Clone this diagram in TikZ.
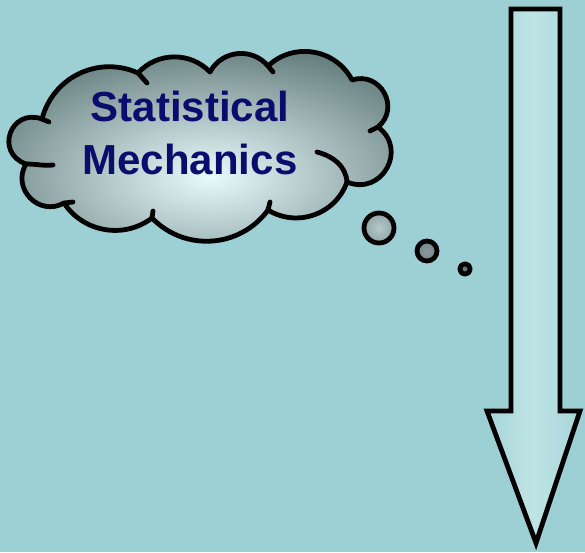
\documentclass[tikz,border=0pt]{standalone}
\usepackage{fontspec}
\setmainfont{Liberation Sans}
\usetikzlibrary{calc}
\definecolor{bgteal}{RGB}{157,208,212}
\definecolor{cloudhi}{RGB}{232,251,252}
\definecolor{cloudlo}{RGB}{100,124,124}
\definecolor{bubhi}{RGB}{182,200,200}
\definecolor{bublo}{RGB}{146,166,166}
\definecolor{arrowhi}{RGB}{192,228,229}
\definecolor{arrowlo}{RGB}{166,213,217}
\definecolor{navytext}{RGB}{12,12,110}
\tikzset{
  outline/.style={draw=black,line width=4.8pt,line join=round,line cap=round},
  bubble/.style={circle,outline,inner sep=0pt,inner color=bubhi,outer color=bublo},
  title/.style={align=center,inner sep=0pt,text=navytext,
    font=\fontsize{42}{53}\selectfont\bfseries},
  puff/.style={bend left=#1},
}

\begin{document}
\begin{tikzpicture}[x=1pt,y=1pt]
  \fill[bgteal] (0,0) rectangle (585,-552);
  \useasboundingbox (0,0) rectangle (585,-552);

  \coordinate (j1) at (42,-119);
  \coordinate (j2) at (138,-73);
  \coordinate (j3) at (210,-72);
  \coordinate (j4) at (268,-66);
  \coordinate (j5) at (352,-80);
  \coordinate (j6) at (378,-127);
  \coordinate (j7) at (347,-182);
  \coordinate (j8) at (268,-210);
  \coordinate (j9) at (152,-218);
  \coordinate (j10) at (64,-203);
  \coordinate (j11) at (26,-164);

  \draw[outline,path picture={
      \shade[inner color=cloudhi,outer color=cloudlo]
        (-50,-50) rectangle (470,-310);}]
    (j1) to[puff=50,looseness=1.04] (j2)
    to[puff=47,looseness=1.01] (j3)
    to[puff=56,looseness=1.09] (j4)
    to[puff=53,looseness=1.06] (j5)
    to[puff=79,looseness=1.42] (j6)
    to[puff=83,looseness=1.52] (j7)
    to[puff=51,looseness=1.05] (j8)
    to[puff=50,looseness=1.04] (j9)
    to[puff=47,looseness=1.01] (j10)
    to[puff=75,looseness=1.35] (j11)
    to[puff=90,looseness=1.8] (j1) -- cycle;

  \coordinate (t1) at (49,-122);
  \coordinate (t2) at (147,-83);
  \coordinate (t4) at (273,-72);
  \coordinate (t6) at (370,-131);
  \coordinate (t8) at (270,-202);
  \coordinate (t9) at (153,-211);
  \coordinate (t10) at (73,-202);
  \coordinate (t11) at (53,-165);
  \coordinate (t7) at (317,-152);
  \foreach \a/\b in {j1/t1,j2/t2,j4/t4,j6/t6,j8/t8,j9/t9,j10/t10}
    \draw[outline] (\a) -- (\b);
  \draw[outline] (j11) to[out=0,in=185] (t11);
  \draw[outline] (j7) to[out=95,in=-15] (t7);

  \node[title] (label) at (190,-133) {Statistical\\Mechanics};

  \node[bubble,minimum size=30pt] (bubA) at (379,-228) {};
  \node[bubble,minimum size=20pt,inner color=bublo!85!black!90,outer color=bublo!80!black] (bubB) at (427,-251) {};
  \node[bubble,minimum size=10.5pt,inner color=bublo!70!black,outer color=bublo!70!black] (bubC) at (465,-269) {};

  \coordinate (a1) at (511,-9);
  \coordinate (a2) at (560,-9);
  \coordinate (a3) at (560,-411);
  \coordinate (a4) at (580,-411);
  \coordinate (tip) at (536,-543);
  \coordinate (a5) at (487,-411);
  \coordinate (a6) at (511,-411);
  \draw[outline,line join=miter,left color=arrowlo,right color=arrowlo,middle color=arrowhi]
    (a1) -- (a2) -- (a3) -- (a4) -- (tip) -- (a5) -- (a6) -- cycle;
\end{tikzpicture}
\end{document}
